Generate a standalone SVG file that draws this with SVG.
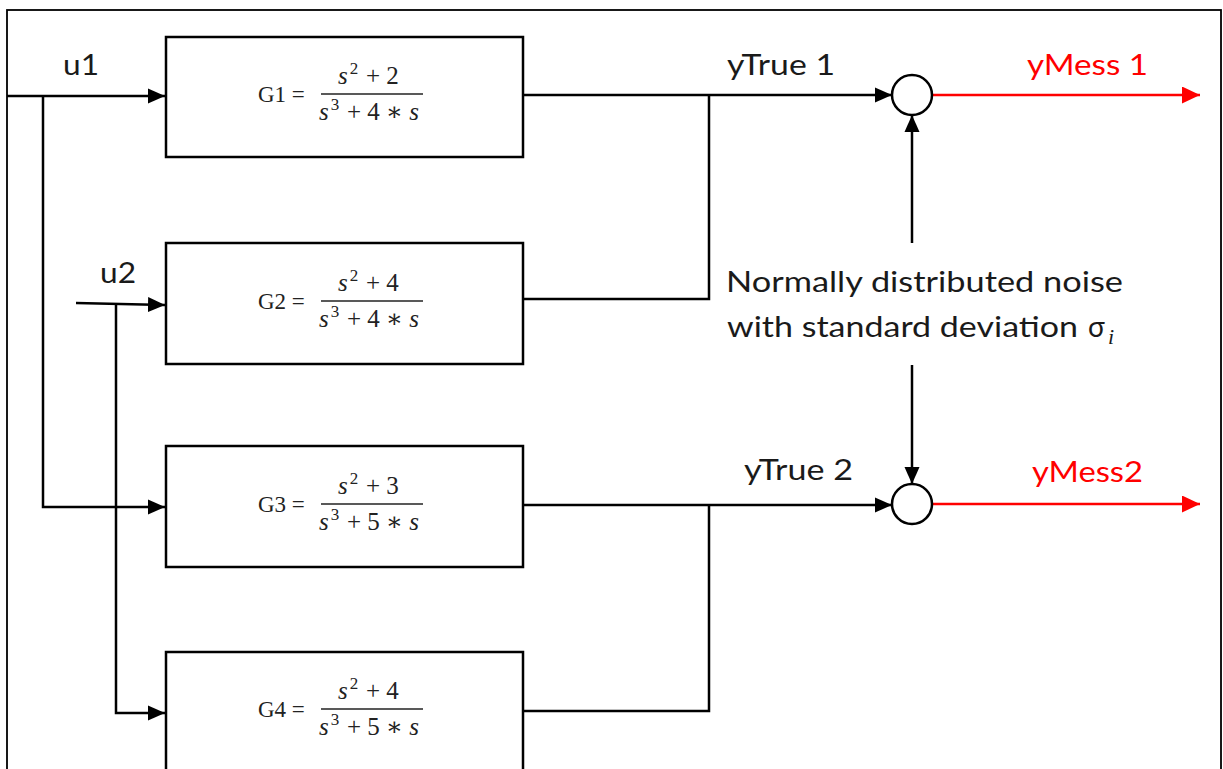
<svg xmlns="http://www.w3.org/2000/svg" width="1223" height="769" viewBox="0 0 1223 769">
<defs>
<marker id="ah" markerUnits="userSpaceOnUse" markerWidth="18" markerHeight="16" refX="17" refY="8" orient="auto"><path d="M0,0.5 L17,8 L0,15.5 z" fill="#000"/></marker>
<marker id="ahr" markerUnits="userSpaceOnUse" markerWidth="18" markerHeight="18" refX="18" refY="8.5" orient="auto"><path d="M0,0 L18,8.5 L0,17 z" fill="#ff0000"/></marker>
<style>
.box{fill:#fff;stroke:#000;stroke-width:2.5}
.ln{fill:none;stroke:#000;stroke-width:2.5}
.red{fill:none;stroke:#ff0000;stroke-width:2.5}
.sum{fill:#fff;stroke:#000;stroke-width:2.5}
.lbl{font-family:Lato,"Open Sans",sans-serif;font-size:28px;fill:#1a1a1a}
.rl{fill:#ff0000}
.m{font-family:"Liberation Serif","DejaVu Serif",serif;font-size:25px;fill:#222}
.g{font-size:23px}
.mi{font-style:italic}
.sp{font-size:17px}
.bar{stroke:#222;stroke-width:1.3}
</style>
</defs>
<rect x="7" y="10" width="1214" height="790" fill="#fff" stroke="#000" stroke-width="1.8"/>

<g id="connectors">
<path class="ln" d="M7,96 H165" marker-end="url(#ah)"/>
<path class="ln" d="M43,96 V507 H165" marker-end="url(#ah)"/>
<path class="ln" d="M76,303 L165,305" marker-end="url(#ah)"/>
<path class="ln" d="M116,303 V713 H165" marker-end="url(#ah)"/>
<path class="ln" d="M523,95 H892" marker-end="url(#ah)"/>
<path class="ln" d="M523,299 H709 V95"/>
<path class="ln" d="M523,505 H892" marker-end="url(#ah)"/>
<path class="ln" d="M523,711 H709 V505"/>
<path class="ln" d="M912,243 V115" marker-end="url(#ah)"/>
<path class="ln" d="M912,365 V484" marker-end="url(#ah)"/>
<path class="red" d="M932,95 H1200" marker-end="url(#ahr)"/>
<path class="red" d="M932,504 H1200" marker-end="url(#ahr)"/>
</g>

<g id="G1">
<rect class="box" x="166" y="37" width="357" height="120"/>
<text class="m g" x="258" y="102">G1 =</text>
<line class="bar" x1="321" y1="94" x2="423" y2="94"/>
<text class="m" x="338" y="84"><tspan class="mi">s</tspan><tspan class="sp" dy="-10" dx="2">2</tspan><tspan dy="10" x="366">+ 2</tspan></text>
<text class="m" x="319" y="120"><tspan class="mi">s</tspan><tspan class="sp" dy="-10" dx="2">3</tspan><tspan dy="10" x="347">+ 4 ∗ </tspan><tspan class="mi">s</tspan></text>
</g>

<g id="G2">
<rect class="box" x="166" y="243" width="357" height="121"/>
<text class="m g" x="258" y="309">G2 =</text>
<line class="bar" x1="321" y1="301" x2="423" y2="301"/>
<text class="m" x="338" y="291"><tspan class="mi">s</tspan><tspan class="sp" dy="-10" dx="2">2</tspan><tspan dy="10" x="366">+ 4</tspan></text>
<text class="m" x="319" y="327"><tspan class="mi">s</tspan><tspan class="sp" dy="-10" dx="2">3</tspan><tspan dy="10" x="347">+ 4 ∗ </tspan><tspan class="mi">s</tspan></text>
</g>

<g id="G3">
<rect class="box" x="166" y="446" width="357" height="121"/>
<text class="m g" x="258" y="512">G3 =</text>
<line class="bar" x1="321" y1="504" x2="423" y2="504"/>
<text class="m" x="338" y="494"><tspan class="mi">s</tspan><tspan class="sp" dy="-10" dx="2">2</tspan><tspan dy="10" x="366">+ 3</tspan></text>
<text class="m" x="319" y="530"><tspan class="mi">s</tspan><tspan class="sp" dy="-10" dx="2">3</tspan><tspan dy="10" x="347">+ 5 ∗ </tspan><tspan class="mi">s</tspan></text>
</g>

<g id="G4">
<rect class="box" x="166" y="652" width="357" height="140"/>
<text class="m g" x="258" y="717">G4 =</text>
<line class="bar" x1="321" y1="709" x2="423" y2="709"/>
<text class="m" x="338" y="699"><tspan class="mi">s</tspan><tspan class="sp" dy="-10" dx="2">2</tspan><tspan dy="10" x="366">+ 4</tspan></text>
<text class="m" x="319" y="735"><tspan class="mi">s</tspan><tspan class="sp" dy="-10" dx="2">3</tspan><tspan dy="10" x="347">+ 5 ∗ </tspan><tspan class="mi">s</tspan></text>
</g>

<g id="sum1"><circle class="sum" cx="912" cy="95" r="20"/></g>
<g id="sum2"><circle class="sum" cx="912" cy="504" r="20"/></g>

<g id="labels">
<text class="lbl" x="63" y="75" textLength="36" lengthAdjust="spacingAndGlyphs">u1</text>
<text class="lbl" x="100" y="283" textLength="36" lengthAdjust="spacingAndGlyphs">u2</text>
<text class="lbl" x="727" y="75" textLength="108" lengthAdjust="spacingAndGlyphs">yTrue 1</text>
<text class="lbl rl" x="1027" y="75" textLength="121" lengthAdjust="spacingAndGlyphs">yMess 1</text>
<text class="lbl" x="744" y="480" textLength="109" lengthAdjust="spacingAndGlyphs">yTrue 2</text>
<text class="lbl rl" x="1032" y="482" textLength="111" lengthAdjust="spacingAndGlyphs">yMess2</text>
</g>

<g id="noise">
<text class="lbl" x="726" y="292" textLength="397" lengthAdjust="spacingAndGlyphs">Normally distributed noise</text>
<text class="lbl" x="727" y="337" textLength="351" lengthAdjust="spacingAndGlyphs">with standard deviation</text>
<text class="lbl" x="1088" y="337">σ</text>
<text x="1108" y="344" font-family="Liberation Serif,serif" font-style="italic" font-size="22" fill="#1a1a1a">i</text>
</g>
</svg>
